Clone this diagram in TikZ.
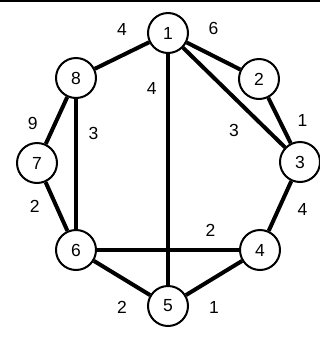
\documentclass[tikz,border=0pt]{standalone}
\usepackage{fontspec}
\setmainfont{Liberation Sans}
\usetikzlibrary{positioning}

\tikzset{
    vertex/.style={draw, circle, line width=2pt, minimum size=40pt, inner sep=0pt, fill=white, font=\fontsize{17.5}{20}\selectfont},
    edge/.style={line width=4pt},
    lbl/.style={inner sep=0pt, font=\fontsize{17.5}{20}\selectfont}
}

\begin{document}
\begin{tikzpicture}[x=1pt, y=-1pt]
    \useasboundingbox (0,0) rectangle (320,338);
    % frame line at the top
    \draw[line width=2pt] (0,1) -- (320,1);

    % Vertices
    \node[vertex] (n1) at (168,33) {1};
    \node[vertex] (n2) at (259,79) {2};
    \node[vertex] (n3) at (300,162) {3};
    \node[vertex] (n4) at (260,250) {4};
    \node[vertex] (n5) at (168,306) {5};
    \node[vertex] (n6) at (76,250) {6};
    \node[vertex] (n7) at (37,163) {7};
    \node[vertex] (n8) at (76,78) {8};

    % Weighted edges
    \draw[edge] (n1) -- node[lbl, above=18pt] {4} (n8);
    \draw[edge] (n1) -- node[lbl, above=19pt] {6} (n2);
    \draw[edge] (n1) -- node[lbl, pos=0.15, left=9.5pt] {4} (n5);
    \draw[edge] (n1) -- node[lbl, below=25pt] {3} (n3);
    \draw[edge] (n2) -- node[lbl, right=16pt] {1} (n3);
    \draw[edge] (n8) -- node[lbl, left=17pt, yshift=-3pt] {9} (n7);
    \draw[edge] (n8) -- node[lbl, pos=0.265, right=10.5pt] {3} (n6);
    \draw[edge] (n7) -- node[lbl, left=15pt] {2} (n6);
    \draw[edge] (n3) -- node[lbl, right=15.5pt, yshift=-3pt] {4} (n4);
    \draw[edge] (n6) -- node[lbl, pos=0.8, above=12pt] {2} (n4);
    \draw[edge] (n6) -- node[lbl, below=21pt] {2} (n5);
    \draw[edge] (n5) -- node[lbl, below=21pt] {1} (n4);
\end{tikzpicture}
\end{document}
